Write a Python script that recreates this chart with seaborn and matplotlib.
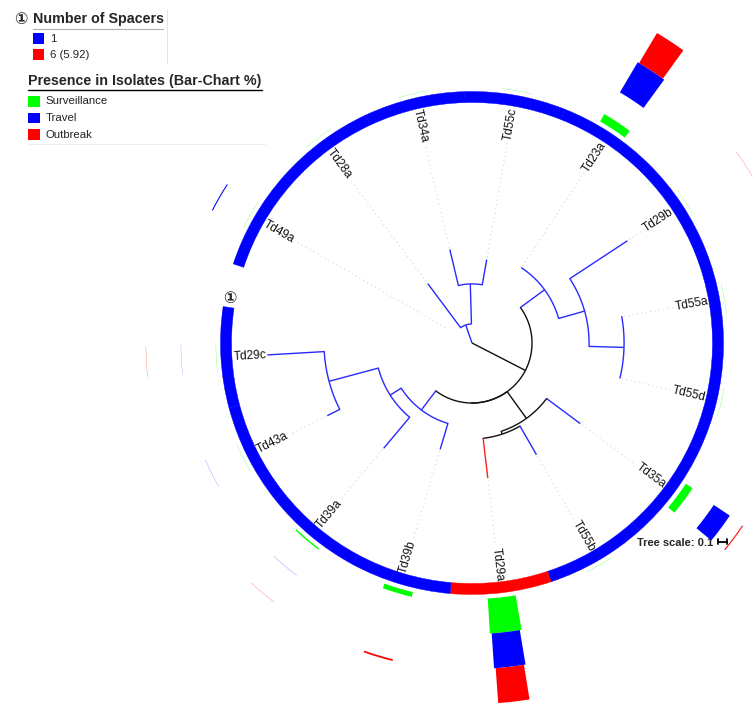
import numpy as np
import matplotlib
matplotlib.use("Agg")
import matplotlib.pyplot as plt
from matplotlib.patches import Rectangle
from matplotlib.lines import Line2D
import seaborn as sns

# ----------------------------------------------------------------------------
# data
# ----------------------------------------------------------------------------
# leaves, clockwise from the start of the circle
leaf_order = ['Td49a', 'Td28a', 'Td34a', 'Td55c', 'Td23a', 'Td29b', 'Td55a', 'Td55d',
              'Td35a', 'Td55b', 'Td29a', 'Td39b', 'Td39a', 'Td43a', 'Td29c']

# tree as parent table, branch lengths in tree units
nodes = ['root', 'Td49a', 'C', 'Td28a', 'D', 'Td34a', 'Td55c',
         'N1', 'N2', 'Td23a', 'N3', 'Td29b', 'N4', 'Td55a', 'Td55d',
         'N1b', 'N5', 'Td35a', 'N6', 'Td55b', 'Td29a',
         'N7', 'Td39b', 'N8', 'Td39a', 'N10', 'Td43a', 'Td29c']
parents = [None, 'root', 'root', 'C', 'C', 'D', 'D',
           'root', 'N1', 'N2', 'N2', 'N3', 'N3', 'N4', 'N4',
           'N1', 'N1b', 'N5', 'N5', 'N6', 'N6',
           'N1b', 'N7', 'N7', 'N8', 'N8', 'N10', 'N10']
lengths = [0.0, 0.341, 0.224, 0.647, 0.471, 0.435, 0.301,
           0.706, 0.353, 0.0, 0.318, 0.812, 0.412, 0.0, 0.0,
           0.0, 0.388, 0.494, 0.035, 0.388, 0.471,
           0.282, 0.318, 0.153, 0.476, 0.600, 0.165, 0.671]
branch_colors = ['k', 'none', 'b', 'b', 'b', 'b', 'b',
                 'k', 'b', 'b', 'b', 'b', 'b', 'b', 'b',
                 'k', 'k', 'b', 'k', 'b', 'r',
                 'b', 'b', 'b', 'b', 'b', 'b', 'b']

# colour strip: number of spacers per leaf (leaf_order)
spacers = [1, 1, 1, 1, 1, 1, 1, 1, 1, 1, 6, 1, 1, 1, 1]
spacer_labels = ['1', '6 (5.92)']

# presence in isolates (%), leaf_order
categories = ['Surveillance', 'Travel', 'Outbreak']
surveillance = [0.6, 0.5, 0.6, 0.6, 24, 0.5, 0.6, 0.6, 23, 0.6, 100, 14, 4, 0.6, 0.6]
travel = [3, 0, 0, 0, 100, 0, 0, 0, 55, 0, 100, 0, 0.5, 0.5, 0.4]
outbreak = [0, 0, 0, 0, 100, 0.6, 0, 0, 3, 0, 100, 5, 0.6, 0, 0.6]

# ----------------------------------------------------------------------------
# style
# ----------------------------------------------------------------------------
sns.set_theme(style="white")
plt.rcParams['font.family'] = ['Liberation Sans', 'DejaVu Sans', 'Noto Sans CJK JP']

cat_colors = sns.color_palette(['#00ff00', '#0000ff', '#ff0000'])
spacer_colors = {1: '#0000ff', 6: '#ff0000'}
line_colors = {'k': '#111111', 'b': '#2a2aff', 'r': '#ff2020', 'none': 'none'}

W, H = 756, 704
SCALE = 85.0          # pixels per tree unit
ARC = 350.0           # degrees covered by the leaves
START = 150.0         # angle of the first leaf
LABEL_R = 206
RING_R, RING_W = 240.5, 11
BAND0, BAND_H, BAR_PX = 256, 35, 30
CX, CY, RLIM = 472, 343, 380

step = ARC / len(leaf_order)
leaf_angle = {n: START - i * step for i, n in enumerate(leaf_order)}

parent_of = dict(zip(nodes, parents))
length_of = dict(zip(nodes, lengths))
color_of = dict(zip(nodes, branch_colors))
children = {n: [] for n in nodes}
for n, p in zip(nodes, parents):
    if p is not None:
        children[p].append(n)

depth = {}
def get_depth(n):
    if n not in depth:
        p = parent_of[n]
        depth[n] = 0.0 if p is None else get_depth(p) + length_of[n]
    return depth[n]

angle = {}
def get_angle(n):
    if n not in angle:
        if not children[n]:
            angle[n] = leaf_angle[n]
        else:
            a = [get_angle(c) for c in children[n]]
            angle[n] = (a[0] + a[-1]) / 2
    return angle[n]

for n in nodes:
    get_depth(n)
    get_angle(n)

# ----------------------------------------------------------------------------
# figure
# ----------------------------------------------------------------------------
fig = plt.figure(figsize=(W / 100, H / 100), dpi=100)
fig.patch.set_facecolor('white')
ax = fig.add_axes([(CX - RLIM) / W, (H - CY - RLIM) / H, 2 * RLIM / W, 2 * RLIM / H],
                  projection='polar')
ax.set_axis_off()

# branches
for n in nodes:
    p = parent_of[n]
    if p is None:
        continue
    col = line_colors[color_of[n]]
    if col == 'none':
        continue
    th = np.deg2rad(angle[n])
    ax.plot([th, th], [depth[p] * SCALE, depth[n] * SCALE], color=col, lw=1.0,
            solid_capstyle='butt', zorder=3)
    if children[n]:
        a0, a1 = angle[children[n][0]], angle[children[n][-1]]
        t = np.deg2rad(np.linspace(a0, a1, 80))
        ax.plot(t, np.full_like(t, depth[n] * SCALE), color=col, lw=1.0, zorder=3)

# leader lines and labels
for n in leaf_order:
    a = leaf_angle[n]
    th = np.deg2rad(a)
    tip = depth[n] * SCALE
    if LABEL_R - tip > 6:
        ax.plot([th, th], [tip + 2, LABEL_R - 2], color='#d6d6d6', lw=0.8,
                ls=(0, (1, 3)), zorder=2)
    an = (a + 180) % 360 - 180
    if -90 <= an <= 90:
        rot, ha = an, 'left'
    else:
        rot, ha = (an - 180 if an > 0 else an + 180), 'right'
    ax.text(th, LABEL_R, n, rotation=rot, rotation_mode='anchor', ha=ha, va='center',
            fontsize=8.6, color='#111111', zorder=4)

thetas = np.deg2rad([leaf_angle[n] for n in leaf_order])

# colour strip (number of spacers)
ring_cols = [spacer_colors[v] for v in spacers]
ax.bar(thetas, RING_W, width=np.deg2rad(step), bottom=RING_R, color=ring_cols,
       edgecolor=ring_cols, linewidth=0.3, align='center', zorder=2)
ax.text(np.deg2rad(169.5), 246, '\u2460', ha='center', va='center', fontsize=11.5,
        fontweight='bold', zorder=4)

# presence in isolates, one band per category
for k, (vals, col) in enumerate(zip([surveillance, travel, outbreak], cat_colors)):
    h = np.asarray(vals, dtype=float) / 100 * BAND_H
    base = BAND0 + k * BAND_H
    w = BAR_PX / (base + h / 2)
    ax.bar(thetas, h, width=w, bottom=base, color=col, linewidth=0,
           align='center', zorder=2)

ax.set_ylim(0, RLIM)

# tree scale
ax.text(637 / W, 1 - 546 / H, 'Tree scale: 0.1', transform=fig.transFigure,
        fontsize=8, fontweight='bold', ha='left', va='baseline', zorder=1)
sb_len = 0.1 * SCALE
sx0, sy = 718.3, 541.7
for xs, ys in [([sx0, sx0 + sb_len], [sy, sy]), ([sx0, sx0], [sy - 2.5, sy + 2.5]),
               ([sx0 + sb_len, sx0 + sb_len], [sy - 2.5, sy + 2.5])]:
    fig.add_artist(Line2D(np.array(xs) / W, 1 - np.array(ys) / H, color='black', lw=1.3))

# ----------------------------------------------------------------------------
# legends (figure pixel coordinates)
# ----------------------------------------------------------------------------
def fx(px):
    return px / W

def fy(py):
    return 1 - py / H

def square(x0, y0, x1, y1, color):
    fig.add_artist(Rectangle((fx(x0), fy(y1)), fx(x1) - fx(x0), fy(y0) - fy(y1),
                             transform=fig.transFigure, facecolor=color, edgecolor='none'))

def hline(x0, x1, y, color, lw=1.0):
    fig.add_artist(Line2D([fx(x0), fx(x1)], [fy(y), fy(y)], color=color, lw=lw))

fig.text(fx(20.8), fy(19.5), '\u2460', fontsize=11.5, fontweight='bold', ha='center', va='center')
fig.text(fx(33), fy(23), 'Number of Spacers', fontsize=10.3, fontweight='bold', va='baseline')
hline(33, 163, 28.5, '#b0b0b0', 0.8)
fig.add_artist(Line2D([fx(166.5), fx(166.5)], [fy(10), fy(63)], color='#e4e4e4', lw=0.8))
for i, lab in enumerate(spacer_labels):
    y0 = 33.3 + i * 16
    square(33.3, y0, 44.3, y0 + 10.5, spacer_colors[[1, 6][i]])
    fig.text(fx(50), fy(y0 + 5.5), lab, fontsize=8.2, va='center', color='#222222')

fig.text(fx(28.3), fy(85.5), 'Presence in Isolates (Bar-Chart %)', fontsize=10.3,
         fontweight='bold', va='baseline')
hline(28.3, 262, 89.5, 'black', 1.0)
hline(28.3, 265, 143.5, '#eeeeee', 0.8)
for i, (lab, col) in enumerate(zip(categories, cat_colors)):
    y0 = 96 + i * 16.7
    square(28.3, y0, 40, y0 + 10.7, col)
    fig.text(fx(45.7), fy(y0 + 5.5), lab, fontsize=8.2, va='center', color='#222222')

fig.savefig('out.png', dpi=100, facecolor='white')
